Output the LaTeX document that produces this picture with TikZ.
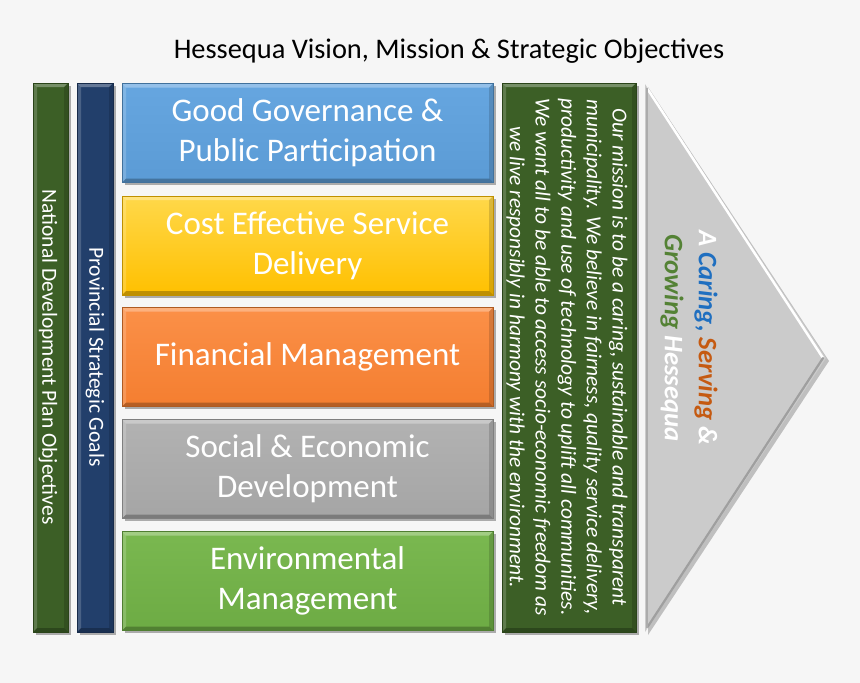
\documentclass[tikz,border=0pt]{standalone}
\usepackage{fontspec}
\setmainfont{Carlito}
\usetikzlibrary{shadows,calc}
\definecolor{bg}{HTML}{F6F6F6}
\definecolor{bluebox}{HTML}{5B9BD5}
\definecolor{blueboxt}{HTML}{66A6E0}
\definecolor{blueline}{HTML}{41719C}
\definecolor{yelbox}{HTML}{FFC000}
\definecolor{yelboxt}{HTML}{FFD84A}
\definecolor{yelline}{HTML}{BF9000}
\definecolor{orabox}{HTML}{F47E30}
\definecolor{oraboxt}{HTML}{FB9048}
\definecolor{oraline}{HTML}{AE5A21}
\definecolor{grabox}{HTML}{A5A5A5}
\definecolor{graboxt}{HTML}{B2B2B2}
\definecolor{graline}{HTML}{7F7F7F}
\definecolor{grnbox}{HTML}{6DAB44}
\definecolor{grnboxt}{HTML}{7AB850}
\definecolor{grnline}{HTML}{507E32}
\definecolor{darkgrn}{HTML}{3C5F26}
\definecolor{darkgrnline}{HTML}{2A4419}
\definecolor{navy}{HTML}{223F6B}
\definecolor{navyline}{HTML}{172B4A}
\definecolor{trigray}{HTML}{CBCBCB}
\definecolor{slblue}{HTML}{1F6FC0}
\definecolor{slorange}{HTML}{C55A11}
\definecolor{slgreen}{HTML}{548235}
\tikzset{
  bevel/.style={path picture={
    \path (path picture bounding box.north west) coordinate (pnw)
          (path picture bounding box.north east) coordinate (pne)
          (path picture bounding box.south west) coordinate (psw)
          (path picture bounding box.south east) coordinate (pse);
    \fill[white,opacity=.30] (pnw) -- (pne) -- ([shift={(-4pt,-4pt)}]pne) -- ([shift={(4pt,-4pt)}]pnw) -- cycle;
    \fill[white,opacity=.18] (pnw) -- (psw) -- ([shift={(4pt,4pt)}]psw) -- ([shift={(4pt,-4pt)}]pnw) -- cycle;
    \fill[black,opacity=.25] (psw) -- (pse) -- ([shift={(-4pt,4pt)}]pse) -- ([shift={(4pt,4pt)}]psw) -- cycle;
    \fill[black,opacity=.15] (pne) -- (pse) -- ([shift={(-4pt,4pt)}]pse) -- ([shift={(-4pt,-4pt)}]pne) -- cycle;
  }},
  shad/.style={drop shadow={shadow xshift=2.5pt,shadow yshift=-2.5pt,opacity=0.3,fill=black}},
  objbox/.style={rectangle, minimum width=371pt, minimum height=99pt, inner sep=0pt,
    line width=0.8pt, text=white, align=center, font=\fontsize{33}{40}\selectfont, shad, bevel},
  bar/.style={rectangle, minimum height=549pt, inner sep=0pt, line width=0.8pt, shad, bevel},
  vtext/.style={rotate=-90, text=white, font=\fontsize{21.5}{26}\selectfont},
}
\begin{document}
\begin{tikzpicture}[x=1pt,y=-1pt]
\fill[bg] (0,0) rectangle (860,683);
\useasboundingbox (0,0) rectangle (860,683);

% title
\node[font=\fontsize{28.4}{34}\selectfont, text=black] (title) at (449,51) {Hessequa Vision, Mission \& Strategic Objectives};

% side bars
\node[bar, minimum width=35pt, fill=darkgrn, draw=darkgrnline] (ndp) at (50.5,357.5) {};
\node[vtext] (ndpt) at (48,357) {National Development Plan Objectives};
\node[bar, minimum width=36pt, fill=navy, draw=navyline] (psg) at (95,357.5) {};
\node[vtext] (psgt) at (95,357) {Provincial Strategic Goals};

% objective boxes
\node[objbox, top color=blueboxt, bottom color=bluebox, draw=blueline] (b1) at (307.5,133) {Good Governance \&\\Public Participation};
\node[objbox, top color=yelboxt, bottom color=yelbox, draw=yelline] (b2) at (307.5,245.5) {Cost Effective Service\\Delivery};
\node[objbox, top color=oraboxt, bottom color=orabox, draw=oraline] (b3) at (307.5,357) {Financial Management};
\node[objbox, top color=graboxt, bottom color=grabox, draw=graline] (b4) at (307.5,469) {Social \& Economic\\Development};
\node[objbox, top color=grnboxt, bottom color=grnbox, draw=grnline] (b5) at (307.5,581) {Environmental\\Management};

% mission box
\node[bar, minimum width=134pt, fill=darkgrn, draw=darkgrnline] (mis) at (569,357.5) {};
\node[rotate=-90, text=white, align=center, font=\fontsize{21.4}{25.7}\selectfont\itshape] (mist) at (567,357)
 {Our mission is to be a caring, sustainable and transparent\\
  municipality. We believe in fairness, quality service delivery,\\
  productivity and use of technology to uplift all communities.\\
  We want all to be able to access socio-economic freedom as\\
  we live responsibly in harmony with the environment.};

% vision arrow
\coordinate (t1) at (645,84);
\coordinate (t2) at (826,358);
\coordinate (t3) at (645,632);
\fill[black,opacity=0.22] ($(t1)+(3,3)$) -- ($(t2)+(3,3)$) -- ($(t3)+(3,3)$) -- cycle;
\fill[trigray] (t1) -- (t2) -- (t3) -- cycle;
\draw[white, line width=2.5pt, line cap=round] ($(t1)+(2.5,5)$) -- ($(t2)+(-3,0)$);
\draw[gray!75, line width=2.2pt, line cap=round] ($(t2)+(-3,0)$) -- ($(t3)+(2.5,-5)$);
\draw[gray!65, line width=2pt] ($(t1)+(1.5,4)$) -- ($(t3)+(1.5,-4)$);
\node[rotate=-90, align=center, font=\fontsize{26.7}{34}\selectfont\bfseries\itshape, text=white] (slogan) at (689,338)
 {A \textcolor{slblue}{Caring,} \textcolor{slorange}{Serving} \&\\
  \textcolor{slgreen}{Growing} Hessequa};
\end{tikzpicture}
\end{document}
